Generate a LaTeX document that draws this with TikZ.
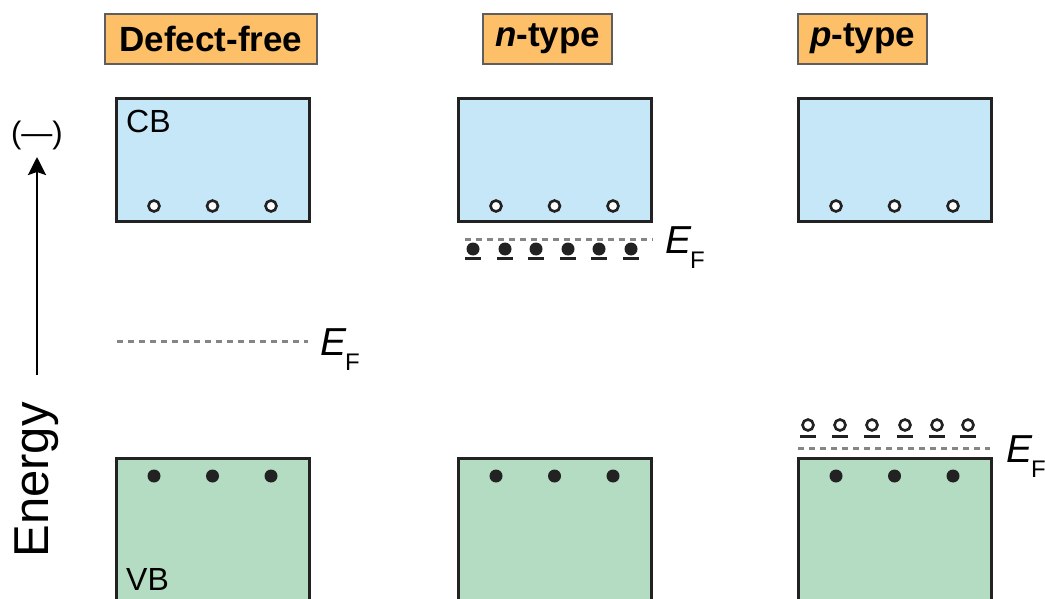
\documentclass[tikz,border=0pt]{standalone}
\usepackage{fontspec}
\setmainfont{Liberation Sans}
\usetikzlibrary{arrows.meta}
\definecolor{titlefill}{HTML}{FDBF68}
\definecolor{titleframe}{HTML}{5E5E5E}
\definecolor{cbfill}{HTML}{C6E7F8}
\definecolor{vbfill}{HTML}{B3DCC2}
\definecolor{bandframe}{HTML}{222222}
\definecolor{fermigray}{HTML}{858585}
\newcommand{\fsz}[1]{\fontsize{#1}{#1}\selectfont}
\newcommand{\fermi}{{\itshape E}\kern-1pt\raisebox{-15pt}{\fsz{24}F}}
\begin{document}
\begin{tikzpicture}[x=1pt,y=-1pt,
  titlebox/.style={fill=titlefill, draw=titleframe, line width=2.6pt,
    minimum height=50pt, inner sep=0pt, font=\fsz{35}\bfseries},
  cbbox/.style={fill=cbfill, draw=bandframe, line width=3pt,
    minimum width=193pt, minimum height=123pt, inner sep=0pt},
  vbbox/.style={fill=vbfill, draw=bandframe, line width=3pt,
    minimum width=193pt, minimum height=200pt, inner sep=0pt},
  hole/.style={circle, draw=bandframe, fill=white, line width=2.6pt,
    minimum size=11pt, inner sep=0pt},
  electron/.style={circle, fill=bandframe, minimum size=13pt, inner sep=0pt},
  fermiline/.style={draw=fermigray, line width=3pt, dash pattern=on 6pt off 5pt},
  levelbar/.style={draw=bandframe, line width=3pt},
  fermilabel/.style={anchor=base west, inner sep=0pt, font=\fsz{39}},
  bandlabel/.style={anchor=base west, inner sep=0pt, font=\fsz{32}},
]
\useasboundingbox (0,0) rectangle (1045,599);
\clip (0,0) rectangle (1045,599);

% energy axis
\coordinate (axisbot) at (37,375);
\coordinate (axistop) at (37,157);
\draw[line width=2.6pt, -{Stealth[length=18pt, width=18pt, inset=3pt]}] (axisbot) -- (axistop);
\node[font=\fsz{31}, inner sep=0pt] (minus) at (37,135) {(—)};
\node[rotate=90, anchor=base, inner sep=0pt, font=\fsz{49}] (energy) at (48,480) {Energy};

% column titles
\node[titlebox, minimum width=212pt] (t1) at (211,39) {Defect-free};
\node[titlebox, minimum width=129pt] (t2) at (547.5,39) {\textit{n}-type};
\node[titlebox, minimum width=129pt] (t3) at (862.5,39) {\textit{p}-type};

% bands
\foreach \c/\cx in {1/212.5, 2/554.5, 3/894.5}{
  \node[cbbox] (cb\c) at (\cx,160.5) {};
  \node[vbbox] (vb\c) at (\cx,558) {};
  \foreach \k/\dx in {a/-58.5, b/0, c/58.5}{
    \node[hole] (h\c\k) at (\cx+\dx,206) {};
    \node[electron] (e\c\k) at (\cx+\dx,476) {};
  }
}
\node[bandlabel] (cblabel) at (126,133) {CB};
\node[bandlabel] (vblabel) at (126,590) {VB};

% defect-free Fermi level
\coordinate (f1a) at (117,341);
\coordinate (f1b) at (308,341);
\draw[fermiline] (f1a) -- (f1b);
\node[fermilabel] (ef1) at (320,355) {\fermi};

% n-type: donor levels below the conduction band
\coordinate (f2a) at (465,239);
\coordinate (f2b) at (653,239);
\draw[fermiline] (f2a) -- (f2b);
\foreach \i/\x in {1/473, 2/505, 3/536, 4/568, 5/599, 6/631}{
  \node[electron] (d\i) at (\x,249) {};
  \coordinate (dl\i) at (\x-8,258);
  \coordinate (dr\i) at (\x+8,258);
  \draw[levelbar] (dl\i) -- (dr\i);
}
\node[fermilabel] (ef2) at (665,253) {\fermi};

% p-type: acceptor levels above the valence band
\coordinate (f3a) at (798,448);
\coordinate (f3b) at (990,448);
\draw[fermiline] (f3a) -- (f3b);
\foreach \i/\x in {1/808, 2/840, 3/872, 4/905, 5/937, 6/968}{
  \node[hole] (a\i) at (\x,425) {};
  \coordinate (al\i) at (\x-8,436);
  \coordinate (ar\i) at (\x+8,436);
  \draw[levelbar] (al\i) -- (ar\i);
}
\node[fermilabel] (ef3) at (1006,462) {\fermi};
\end{tikzpicture}
\end{document}
